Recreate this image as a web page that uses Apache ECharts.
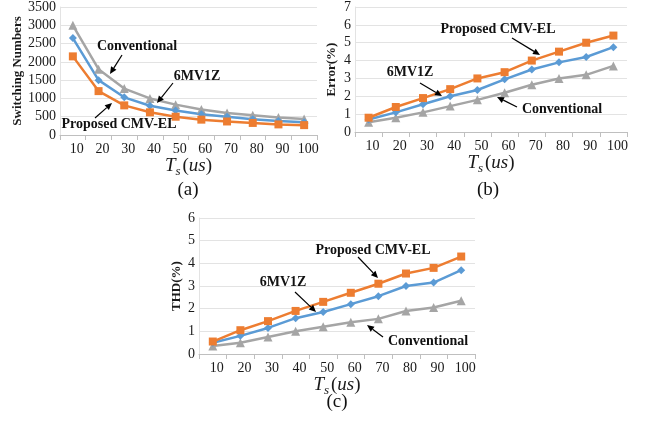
<!DOCTYPE html>
<html>
<head>
<meta charset="utf-8">
<script src="https://cdn.jsdelivr.net/npm/echarts@6/dist/echarts.min.js"></script>
<style>html,body{margin:0;padding:0;background:#fff}#c{width:645px;height:423px}</style>
</head>
<body>
<div id="c"></div>
<script>
const categories = ['10','20','30','40','50','60','70','80','90','100'];
// (a) Switching numbers
const swConventional = [3000, 1800, 1270, 1000, 830, 700, 600, 540, 480, 440];
const sw6MV1Z        = [2650, 1500, 1030, 800, 670, 570, 500, 430, 380, 350];
const swProposed     = [2150, 1200, 810, 620, 500, 420, 370, 330, 290, 270];
// (b) Error (%)
const errConventional = [0.55, 0.8, 1.1, 1.45, 1.8, 2.2, 2.65, 3.0, 3.2, 3.7];
const err6MV1Z        = [0.7, 1.1, 1.55, 2.0, 2.35, 2.95, 3.5, 3.9, 4.2, 4.75];
const errProposed     = [0.8, 1.4, 1.9, 2.4, 3.0, 3.35, 4.0, 4.5, 5.0, 5.4];
// (c) THD (%)
const thdConventional = [0.35, 0.5, 0.75, 1.0, 1.2, 1.4, 1.55, 1.9, 2.05, 2.35];
const thd6MV1Z        = [0.5, 0.8, 1.15, 1.58, 1.85, 2.2, 2.55, 3.0, 3.15, 3.7];
const thdProposed     = [0.55, 1.05, 1.45, 1.9, 2.3, 2.7, 3.1, 3.55, 3.8, 4.3];
const seriesNames = ['Conventional', '6MV1Z', 'Proposed CMV-EL'];

const ORANGE = '#ED7D31', BLUE = '#5B9BD5', GRAY = '#A5A5A5';
const SERIF = 'Liberation Serif';

const chart = echarts.init(document.getElementById('c'), null, {renderer: 'canvas'});

function xAxisDef(gi) {
  return {
    type: 'category', gridIndex: gi, data: categories, boundaryGap: true,
    axisLine: {lineStyle: {color: '#BFBFBF', width: 1}},
    axisTick: {show: true, alignWithLabel: false, length: 5, lineStyle: {color: '#BFBFBF'}},
    axisLabel: {interval: 0, color: '#1a1a1a', fontFamily: SERIF, fontSize: 14, margin: 7, padding: [0, 0, 0, 8]},
    name: '{t|T}{s|s}{p|(}{u|us}{p|)}', nameLocation: 'middle', nameGap: 17,
    nameTextStyle: {
      rich: {
        t: {fontFamily: SERIF, fontStyle: 'italic', fontSize: 19, color: '#1a1a1a'},
        s: {fontFamily: SERIF, fontStyle: 'italic', fontSize: 13, color: '#1a1a1a', verticalAlign: 'bottom', padding: [10, 2, 0, 0]},
        p: {fontFamily: SERIF, fontSize: 19, color: '#1a1a1a'},
        u: {fontFamily: SERIF, fontStyle: 'italic', fontSize: 19, color: '#1a1a1a'}
      }
    }
  };
}
function yAxisDef(gi, max, interval, name, gap) {
  return {
    type: 'value', gridIndex: gi, min: 0, max: max, interval: interval,
    axisLine: {show: true, lineStyle: {color: '#E3E3E3'}},
    axisTick: {show: false},
    splitLine: {lineStyle: {color: '#E3E3E3', width: 1}},
    axisLabel: {color: '#1a1a1a', fontFamily: SERIF, fontSize: 14, margin: 4, formatter: function (v) { return String(v); }},
    name: name, nameLocation: 'middle', nameRotate: 90, nameGap: gap,
    nameTextStyle: {fontFamily: SERIF, fontWeight: 'bold', fontSize: 13, color: '#1a1a1a'}
  };
}
function lineSeries(gi, name, data, color, symbol, size) {
  return {
    type: 'line', name: name, xAxisIndex: gi, yAxisIndex: gi, data: data,
    symbol: symbol, symbolSize: size, showSymbol: true,
    lineStyle: {color: color, width: 2.5},
    itemStyle: {color: color},
    animation: false, z: 3
  };
}

function arrow(x1, y1, x2, y2) {
  const ang = Math.atan2(y2 - y1, x2 - x1);
  const L = 7, W = 3.2;
  const bx = x2 - L * Math.cos(ang), by = y2 - L * Math.sin(ang);
  const px = -Math.sin(ang) * W, py = Math.cos(ang) * W;
  return [
    {type: 'line', shape: {x1: x1, y1: y1, x2: bx, y2: by}, style: {stroke: '#000', lineWidth: 1.2}, z: 10},
    {type: 'polygon', shape: {points: [[x2, y2], [bx + px, by + py], [bx - px, by - py]]}, style: {fill: '#000'}, z: 10}
  ];
}
function label(text, cx, cy) {
  return {type: 'text', x: cx, y: cy, z: 10,
    style: {text: text, fontFamily: SERIF, fontWeight: 'bold', fontSize: 14, fill: '#111', align: 'center', verticalAlign: 'middle'}};
}
function panelLabel(text, cx, cy) {
  return {type: 'text', x: cx, y: cy, z: 10,
    style: {text: text, fontFamily: SERIF, fontSize: 19, fill: '#111', align: 'center', verticalAlign: 'middle'}};
}

const graphics = [].concat(
  // (a)
  [label(seriesNames[0], 137, 46)], arrow(122, 55, 110, 74),
  [label(seriesNames[1], 197, 76)], arrow(173, 83, 157, 103),
  [label(seriesNames[2], 119, 124)], arrow(95, 118, 112, 103),
  [panelLabel('(a)', 188, 190)],
  // (b)
  [label(seriesNames[2], 498, 29)], arrow(512, 38, 540, 55),
  [label(seriesNames[1], 410, 72)], arrow(420, 83, 442, 96),
  [label(seriesNames[0], 562, 109)], arrow(517, 107, 497, 97),
  [panelLabel('(b)', 488, 190)],
  // (c)
  [label(seriesNames[2], 373, 250)], arrow(358, 257, 378, 278),
  [label(seriesNames[1], 283, 282)], arrow(295, 292, 316, 312),
  [label(seriesNames[0], 428, 341)], arrow(383, 337, 367, 325),
  [panelLabel('(c)', 337, 402)]
);

const option = {
  backgroundColor: '#fff',
  animation: false,
  grid: [
    {left: 60, top: 7, width: 257, height: 128, containLabel: false},
    {left: 355, top: 7, width: 272, height: 125, containLabel: false},
    {left: 199, top: 218, width: 276, height: 136, containLabel: false}
  ],
  xAxis: [xAxisDef(0), xAxisDef(1), xAxisDef(2)],
  yAxis: [
    yAxisDef(0, 3500, 500, 'Switching Numbers', 36),
    yAxisDef(1, 7, 1, 'Error(%)', 17),
    yAxisDef(2, 6, 1, 'THD(%)', 16)
  ],
  series: [
    lineSeries(0, seriesNames[0], swConventional, GRAY, 'triangle', 9),
    lineSeries(0, seriesNames[1], sw6MV1Z, BLUE, 'diamond', 8),
    lineSeries(0, seriesNames[2], swProposed, ORANGE, 'rect', 8),
    lineSeries(1, seriesNames[0], errConventional, GRAY, 'triangle', 9),
    lineSeries(1, seriesNames[1], err6MV1Z, BLUE, 'diamond', 8),
    lineSeries(1, seriesNames[2], errProposed, ORANGE, 'rect', 8),
    lineSeries(2, seriesNames[0], thdConventional, GRAY, 'triangle', 9),
    lineSeries(2, seriesNames[1], thd6MV1Z, BLUE, 'diamond', 8),
    lineSeries(2, seriesNames[2], thdProposed, ORANGE, 'rect', 8)
  ],
  graphic: graphics
};
chart.setOption(option);
</script>
</body>
</html>
